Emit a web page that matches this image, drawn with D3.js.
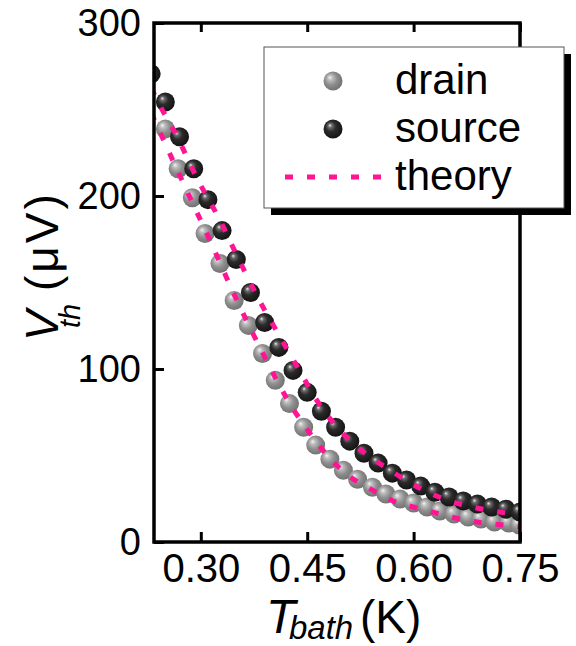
<!DOCTYPE html>
<html>
<head>
  <style>
    body { margin: 0; padding: 0; background: #fff; overflow: hidden; }
    svg text { font-family: "Liberation Sans", Arial, sans-serif; fill: #000; }
  </style>
</head>
<body>
  <svg id="chart" width="576" height="646"></svg>

  <script src="https://d3js.org/d3.v7.min.js"></script>
  <script>
    // drain (grey spheres)
    const drainT = [0.250, 0.268, 0.288, 0.306, 0.327, 0.347, 0.367, 0.387, 0.405, 0.425,
                    0.445, 0.462, 0.482, 0.501, 0.521, 0.542, 0.561, 0.581, 0.600, 0.619,
                    0.637, 0.657, 0.677, 0.695, 0.714, 0.734, 0.749];
    const drainV = [238.8, 215.8, 199.0, 178.3, 161.0, 139.6, 125.2, 109.0, 93.5, 80.0,
                    66.3, 56.0, 47.9, 41.5, 36.3, 31.7, 27.7, 24.8, 22.5, 20.2,
                    17.9, 16.2, 14.4, 13.3, 11.5, 11.0, 9.8];

    // source (black spheres)
    const sourceT = [0.23, 0.25, 0.27, 0.29, 0.31, 0.33, 0.35, 0.37, 0.39, 0.41,
                     0.43, 0.45, 0.47, 0.49, 0.51, 0.53, 0.55, 0.57, 0.59, 0.61,
                     0.63, 0.65, 0.67, 0.69, 0.71, 0.73, 0.75];
    const sourceV = [270.6, 254.3, 234.2, 215.8, 197.9, 180.0, 163.3, 144.2, 126.9, 112.5,
                     99.2, 86.5, 75.6, 66.3, 58.3, 51.3, 45.6, 39.8, 35.8, 32.3,
                     28.8, 26.0, 23.7, 21.9, 20.2, 19.0, 17.3];

    // theory curves
    const theoryDrainT = [0.230, 0.235, 0.275, 0.313, 0.351, 0.391, 0.421, 0.459, 0.483, 0.511,
                          0.542, 0.575, 0.603, 0.634, 0.663, 0.695, 0.728, 0.752];
    const theoryDrainV = [248.0, 243.5, 207.7, 174.2, 139.6, 106.2, 83.1, 60.0, 47.9, 37.5,
                          30.0, 23.1, 19.8, 16.5, 13.5, 11.2, 9.8, 8.7];
    const theorySourceT = [0.230, 0.234, 0.268, 0.295, 0.325, 0.353, 0.381, 0.412, 0.443, 0.459,
                           0.507, 0.535, 0.565, 0.596, 0.627, 0.657, 0.685, 0.719, 0.752];
    const theorySourceV = [262.5, 259.0, 233.1, 210.0, 187.5, 163.8, 140.8, 118.3, 96.3, 84.8,
                           60.0, 50.2, 42.0, 34.0, 27.5, 23.0, 20.0, 17.5, 15.3];

    const xTicks = [0.30, 0.45, 0.60, 0.75];
    const yTicks = [0, 100, 200, 300];
    const legendLabels = ['drain', 'source', 'theory'];

    const pink = '#ff1493';
    const pLeft = 154, pRight = 520, pTop = 23, pBottom = 542;

    const svg = d3.select('#chart');

    const x = d3.scaleLinear().domain([0.234, 0.75]).range([pLeft, pRight]);
    const y = d3.scaleLinear().domain([0, 300]).range([pBottom, pTop]);

    // sphere gradients
    const defs = svg.append('defs');
    function sphere(id, stops) {
      const g = defs.append('radialGradient').attr('id', id)
        .attr('cx', '45%').attr('cy', '45%').attr('r', '60%')
        .attr('fx', '33%').attr('fy', '30%');
      stops.forEach(s => g.append('stop').attr('offset', s[0]).attr('stop-color', s[1]));
    }
    sphere('gGrey', [['0%', '#f4f4f4'], ['22%', '#bdbdbd'], ['55%', '#8e8e8e'], ['100%', '#6e6e6e']]);
    sphere('gBlack', [['0%', '#e8e8e8'], ['18%', '#6a6a6a'], ['45%', '#2b2b2b'], ['100%', '#111']]);

    defs.append('clipPath').attr('id', 'plotClip')
      .append('rect').attr('x', pLeft).attr('y', pTop)
      .attr('width', pRight - pLeft).attr('height', pBottom - pTop);

    const plot = svg.append('g').attr('clip-path', 'url(#plotClip)');
    const R = 9.5;

    plot.append('g').selectAll('circle')
      .data(drainT.map((t, i) => [t, drainV[i]]))
      .join('circle')
      .attr('cx', d => x(d[0])).attr('cy', d => y(d[1])).attr('r', R)
      .attr('fill', 'url(#gGrey)');

    plot.append('g').selectAll('circle')
      .data(sourceT.map((t, i) => [t, sourceV[i]]))
      .join('circle')
      .attr('cx', d => x(d[0])).attr('cy', d => y(d[1])).attr('r', R)
      .attr('fill', 'url(#gBlack)');

    const line = d3.line().x(d => x(d[0])).y(d => y(d[1])).curve(d3.curveMonotoneX);
    [[theoryDrainT, theoryDrainV], [theorySourceT, theorySourceV]].forEach(([ts, vs]) => {
      plot.append('path')
        .datum(ts.map((t, i) => [t, vs[i]]))
        .attr('d', line)
        .attr('fill', 'none')
        .attr('stroke', pink)
        .attr('stroke-width', 5)
        .attr('stroke-dasharray', '8,14');
    });

    // axes: ticks point inwards
    const xAxis = svg.append('g').attr('transform', `translate(0,${pBottom})`)
      .call(d3.axisBottom(x).tickValues(xTicks).tickFormat(d3.format('.2f')).tickSize(-10).tickPadding(12));
    xAxis.selectAll('text').attr('font-size', 40).attr('dy', '0.71em');

    svg.append('g').attr('transform', `translate(0,${pTop})`)
      .call(d3.axisTop(x).tickValues(xTicks).tickFormat('').tickSize(-9));

    const yAxis = svg.append('g').attr('transform', `translate(${pLeft},0)`)
      .call(d3.axisLeft(y).tickValues(yTicks).tickSize(-10).tickPadding(13));
    yAxis.selectAll('text').attr('font-size', 38);

    svg.selectAll('.domain').remove();
    svg.selectAll('.tick line').attr('stroke', '#000').attr('stroke-width', 3);

    svg.append('rect')
      .attr('x', pLeft).attr('y', pTop)
      .attr('width', pRight - pLeft).attr('height', pBottom - pTop)
      .attr('fill', 'none').attr('stroke', '#000').attr('stroke-width', 3.5);

    // legend with drop shadow
    const lg = svg.append('g');
    lg.append('rect').attr('x', 271).attr('y', 54).attr('width', 300).attr('height', 161).attr('fill', '#000');
    lg.append('rect').attr('x', 264).attr('y', 47).attr('width', 300).attr('height', 161)
      .attr('fill', '#fff').attr('stroke', '#555').attr('stroke-width', 1);

    lg.append('circle').attr('cx', 333).attr('cy', 81).attr('r', R).attr('fill', 'url(#gGrey)');
    lg.append('circle').attr('cx', 333).attr('cy', 129).attr('r', R).attr('fill', 'url(#gBlack)');
    lg.append('line').attr('x1', 285).attr('x2', 382).attr('y1', 177).attr('y2', 177)
      .attr('stroke', pink).attr('stroke-width', 5).attr('stroke-dasharray', '8,14');

    lg.selectAll('text.lab').data(legendLabels).join('text')
      .attr('class', 'lab')
      .attr('x', 395).attr('y', (d, i) => 94 + i * 48)
      .attr('font-size', 42)
      .text(d => d);

    // x label: T_bath (K)
    svg.append('text').attr('x', 266).attr('y', 633).attr('font-size', 48).attr('font-style', 'italic').text('T');
    svg.append('text').attr('x', 289).attr('y', 639).attr('font-size', 33).attr('font-style', 'italic').text('bath');
    svg.append('text').attr('x', 360).attr('y', 633).attr('font-size', 46).text('(K)');

    // y label: V_th (µV), rotated
    svg.append('text').attr('transform', 'translate(58,341) rotate(-90)')
      .attr('font-size', 46).attr('font-style', 'italic').text('V');
    svg.append('text').attr('transform', 'translate(80,328) rotate(-90)')
      .attr('font-size', 29).attr('font-style', 'italic').text('th');
    svg.append('text').attr('transform', 'translate(58,291) rotate(-90)')
      .attr('font-size', 46).attr('letter-spacing', 3).text('(\u03bcV)');
  </script>
</body>
</html>
